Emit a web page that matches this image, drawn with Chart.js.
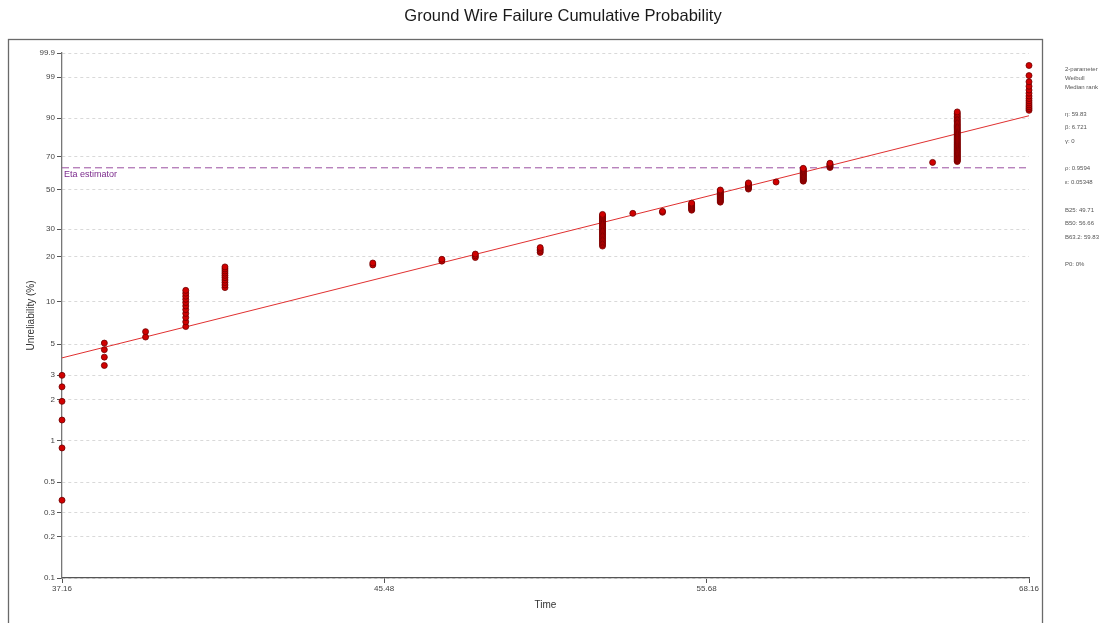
<!DOCTYPE html>
<html>
<head>
<meta charset="utf-8">
<script src="https://cdn.jsdelivr.net/npm/chart.js@4.4.0/dist/chart.umd.min.js"></script>
<style>
  html, body { margin: 0; padding: 0; background: #ffffff; }
  canvas { display: block; }
</style>
</head>
<body>
<canvas id="weibullPlot" width="1100" height="623"></canvas>
<script>
// Failure times (one entry per group of tied failures)
const failureTimes = [37.16, 38.16, 39.16, 40.16, 41.16, 45.16, 47.16, 48.16, 50.16, 52.16, 53.16,
  54.16, 55.16, 56.16, 57.16, 58.16, 59.16, 60.16, 64.16, 65.16, 68.16];

// Median-rank unreliability (%) of every failure, grouped by failure time
const unreliability = [
  [0.37, 0.89, 1.42, 1.94, 2.47, 2.99],
  [3.52, 4.04, 4.57, 5.09],
  [5.62, 6.14],
  [6.67, 7.20, 7.72, 8.25, 8.77, 9.30, 9.82, 10.35, 10.87, 11.40, 11.92],
  [12.45, 12.97, 13.50, 14.02, 14.55, 15.07, 15.60, 16.12, 16.65, 17.17],
  [17.70, 18.22],
  [18.75, 19.28],
  [19.80, 20.33, 20.85],
  [21.38, 21.90, 22.43, 22.95],
  [23.48, 24.00, 24.53, 25.05, 25.58, 26.10, 26.63, 27.15, 27.68, 28.20, 28.73, 29.25, 29.78,
   30.30, 30.83, 31.36, 31.88, 32.41, 32.93, 33.46, 33.98, 34.51, 35.03, 35.56, 36.08, 36.61],
  [37.13],
  [37.66, 38.18],
  [38.71, 39.23, 39.76, 40.28, 40.81, 41.33, 41.86, 42.38],
  [42.91, 43.43, 43.96, 44.49, 45.01, 45.54, 46.06, 46.59, 47.11, 47.64, 48.16, 48.69, 49.21, 49.74],
  [50.26, 50.79, 51.31, 51.84, 52.36, 52.89, 53.41, 53.94],
  [54.46],
  [54.99, 55.51, 56.04, 56.57, 57.09, 57.62, 58.14, 58.67, 59.19, 59.72, 60.24, 60.77, 61.29, 61.82, 62.34, 62.87],
  [63.39, 63.92, 64.44, 64.97, 65.49, 66.02],
  [66.54],
  [67.07, 67.59, 68.12, 68.64, 69.17, 69.70, 70.22, 70.75, 71.27, 71.80, 72.32, 72.85, 73.37, 73.90,
   74.42, 74.95, 75.47, 76.00, 76.52, 77.05, 77.57, 78.10, 78.62, 79.15, 79.67, 80.20, 80.72, 81.25,
   81.78, 82.30, 82.83, 83.35, 83.88, 84.40, 84.93, 85.45, 85.98, 86.50, 87.03, 87.55, 88.08, 88.60,
   89.13, 89.65, 90.18, 90.70, 91.23, 91.75, 92.28],
  [92.80, 93.33, 93.86, 94.38, 94.91, 95.43, 95.96, 96.48, 97.01, 97.53, 98.06, 98.58, 99.11, 99.63]
];

// Axis ticks
const timeTicks = [37.16, 45.48, 55.68, 68.16];
const unreliabilityTicks = [0.1, 0.2, 0.3, 0.5, 1, 2, 3, 5, 10, 20, 30, 50, 70, 90, 99, 99.9];

// Fitted 2-parameter Weibull model
const fitEta = 59.83;
const fitBeta = 6.721;
const etaLevel = 63.2;

// Summary text shown beside the plot
const summaryLines = [
  ['2-parameter', 69], ['Weibull', 78], ['Median rank', 87],
  ['\u03B7: 59.83', 114], ['\u03B2: 6.721', 127], ['\u03B3: 0', 141],
  ['\u03C1: 0.9594', 168], ['\u03B5: 0.05348', 182],
  ['B25: 49.71', 210], ['B50: 56.66', 223], ['B63.2: 59.83', 237],
  ['P0: 0%', 264]
];

const FONT = "'Liberation Sans', Arial, Helvetica, sans-serif";

// Weibull probability transform: ln(-ln(1 - F))
function weibullT(p) { return Math.log(-Math.log(1 - p / 100)); }

// Vertical scale spaced on Weibull probability paper
class WeibullScale extends Chart.Scale {
  determineDataLimits() {
    this.min = this.options.min;
    this.max = this.options.max;
  }
  buildTicks() {
    return unreliabilityTicks.map(v => ({ value: v }));
  }
  getLabelForValue(v) { return String(v); }
  configure() {
    super.configure();
    this._tStart = weibullT(this.min);
    this._tRange = weibullT(this.max) - this._tStart;
  }
  getPixelForValue(v) {
    if (v === null || v === undefined || isNaN(v)) return NaN;
    return this.getPixelForDecimal((weibullT(v) - this._tStart) / this._tRange);
  }
  getValueForPixel(px) {
    const t = this._tStart + this.getDecimalForPixel(px) * this._tRange;
    return 100 * (1 - Math.exp(-Math.exp(t)));
  }
}
WeibullScale.id = 'weibull';
WeibullScale.defaults = {};
Chart.register(WeibullScale);

// Build scatter points from the grouped data
const failurePoints = [];
failureTimes.forEach((t, i) => unreliability[i].forEach(f => failurePoints.push({ x: t, y: f })));

const weibullCdf = t => 100 * (1 - Math.exp(-Math.pow(t / fitEta, fitBeta)));
const tMin = timeTicks[0], tMax = timeTicks[timeTicks.length - 1];
const fitLine = [{ x: tMin, y: weibullCdf(tMin) }, { x: tMax, y: weibullCdf(tMax) }];
const etaLine = [{ x: tMin, y: etaLevel }, { x: tMax, y: etaLevel }];

// Frame, title, estimator label and summary panel
const decorations = {
  id: 'decorations',
  beforeDraw(chart) {
    const ctx = chart.ctx;
    ctx.save();
    ctx.fillStyle = '#ffffff';
    ctx.fillRect(0, 0, chart.width, chart.height);
    ctx.restore();
  },
  afterDraw(chart) {
    const ctx = chart.ctx;
    const area = chart.chartArea;
    ctx.save();
    // outer frame
    ctx.strokeStyle = '#6a6a6a';
    ctx.lineWidth = 1.3;
    ctx.strokeRect(8.5, 39.5, 1034, 700);
    // title
    ctx.fillStyle = '#1a1a1a';
    ctx.font = '16.5px ' + FONT;
    ctx.textAlign = 'center';
    ctx.textBaseline = 'middle';
    ctx.fillText('Ground Wire Failure Cumulative Probability', 563, 16);
    // estimator label
    const yEta = chart.scales.y.getPixelForValue(etaLevel);
    ctx.fillStyle = '#7b2a8c';
    ctx.font = '9px ' + FONT;
    ctx.textAlign = 'left';
    ctx.textBaseline = 'top';
    ctx.fillText('Eta estimator', area.left + 2, yEta + 2);
    // summary panel
    ctx.fillStyle = '#555555';
    ctx.font = '6px ' + FONT;
    ctx.textBaseline = 'middle';
    summaryLines.forEach(([txt, y]) => ctx.fillText(txt, 1065, y));
    ctx.restore();
  }
};

new Chart(document.getElementById('weibullPlot'), {
  type: 'scatter',
  data: {
    datasets: [
      {
        label: 'Failures',
        data: failurePoints,
        clip: false,
        pointRadius: 3,
        pointHoverRadius: 3,
        pointBackgroundColor: '#d00000',
        pointBorderColor: '#6e0000',
        pointBorderWidth: 0.8,
        showLine: false
      },
      {
        label: 'Weibull fit',
        data: fitLine,
        showLine: true,
        borderColor: '#e03030',
        borderWidth: 1,
        pointRadius: 0
      },
      {
        label: 'Eta estimator',
        data: etaLine,
        showLine: true,
        borderColor: '#9a4fa0',
        borderWidth: 1,
        borderDash: [7, 4],
        pointRadius: 0
      }
    ]
  },
  options: {
    responsive: false,
    animation: false,
    devicePixelRatio: 1,
    layout: { padding: { left: 0, top: 53, right: 71, bottom: 0 } },
    plugins: {
      legend: { display: false },
      title: { display: false },
      tooltip: { enabled: false }
    },
    scales: {
      x: {
        type: 'logarithmic',
        min: tMin,
        max: tMax,
        bounds: 'data',
        afterBuildTicks: scale => { scale.ticks = timeTicks.map(v => ({ value: v })); },
        afterFit: scale => { scale.height = 45; },
        grid: { drawOnChartArea: false, drawTicks: true, tickLength: 5, tickColor: '#555555', color: '#555555' },
        border: { display: true, color: '#555555', width: 1.3 },
        ticks: {
          autoSkip: false,
          maxRotation: 0,
          padding: 1,
          color: '#444444',
          font: { family: FONT, size: 8 },
          callback: v => Number(v).toFixed(2)
        },
        title: {
          display: true,
          text: 'Time',
          color: '#333333',
          font: { family: FONT, size: 10 },
          padding: { top: 0, bottom: 12 }
        }
      },
      y: {
        type: 'weibull',
        position: 'left',
        min: 0.1,
        max: 99.9,
        afterFit: scale => { scale.width = 62; },
        grid: { drawOnChartArea: true, drawTicks: true, tickLength: 5, color: '#d9d9d9', tickColor: '#555555', lineWidth: 1 },
        border: { display: true, color: '#777777', width: 1.3, dash: [3, 3] },
        ticks: {
          autoSkip: false,
          padding: 2,
          color: '#444444',
          font: { family: FONT, size: 8 },
          callback: v => String(v)
        },
        title: {
          display: true,
          text: 'Unreliability (%)',
          color: '#333333',
          font: { family: FONT, size: 10 },
          padding: { top: 25, bottom: 0 }
        }
      }
    }
  },
  plugins: [decorations]
});
</script>
</body>
</html>
